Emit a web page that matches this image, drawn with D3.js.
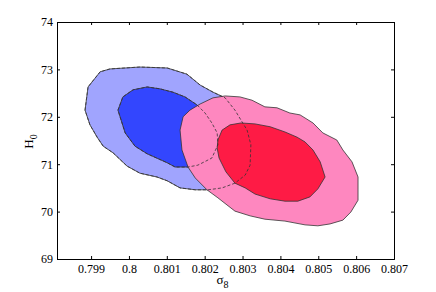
<!DOCTYPE html>
<html lang="en">
<head>
<meta charset="utf-8">
<title>sigma8 vs H0</title>
<script src="https://d3js.org/d3.v7.min.js"></script>
<style>
  body { margin: 0; background: #fff; }
  text { font-family: "Liberation Serif", "Times New Roman", serif; }
</style>
</head>
<body>
<div id="chart"></div>
<script>
// contour outlines, as [sigma8, H0]
const blueOuter = [
  [0.79884,72.14],[0.79892,72.63],[0.79924,72.95],[0.79950,73.01],[0.80029,73.05],
  [0.80101,73.03],[0.80153,72.90],[0.80188,72.67],[0.80222,72.52],[0.80254,72.40],
  [0.80280,72.14],[0.80299,71.89],[0.80312,71.72],[0.80322,71.41],[0.80320,70.98],
  [0.80307,70.77],[0.80280,70.60],[0.80246,70.50],[0.80209,70.46],[0.80175,70.46],
  [0.80135,70.50],[0.80101,70.65],[0.80074,70.73],[0.80029,70.81],[0.79995,70.96],
  [0.79958,71.24],[0.79932,71.38],[0.79916,71.57],[0.79897,71.83]
];
const blueInner = [
  [0.79971,72.14],[0.79984,72.42],[0.80011,72.57],[0.80048,72.63],[0.80082,72.59],
  [0.80116,72.52],[0.80148,72.42],[0.80180,72.25],[0.80201,72.08],[0.80219,71.87],
  [0.80233,71.66],[0.80235,71.41],[0.80219,71.13],[0.80182,70.98],[0.80156,70.94],
  [0.80122,70.94],[0.80101,71.03],[0.80048,71.22],[0.80016,71.38],[0.79990,71.66]
];
const pinkOuter = [
  [0.80135,71.72],[0.80143,72.00],[0.80161,72.14],[0.80188,72.27],[0.80222,72.40],
  [0.80254,72.44],[0.80293,72.42],[0.80325,72.35],[0.80359,72.21],[0.80391,72.19],
  [0.80425,72.08],[0.80452,72.04],[0.80486,71.87],[0.80512,71.66],[0.80549,71.51],
  [0.80565,71.30],[0.80589,71.05],[0.80605,70.73],[0.80605,70.24],[0.80586,69.99],
  [0.80565,69.82],[0.80531,69.74],[0.80499,69.70],[0.80465,69.72],[0.80412,69.80],
  [0.80359,69.84],[0.80320,69.91],[0.80280,70.01],[0.80259,70.14],[0.80235,70.29],
  [0.80206,70.46],[0.80175,70.71],[0.80156,70.94],[0.80140,71.30]
];
const redInner = [
  [0.80235,71.51],[0.80246,71.72],[0.80267,71.83],[0.80296,71.87],[0.80333,71.85],
  [0.80373,71.79],[0.80412,71.68],[0.80444,71.57],[0.80465,71.47],[0.80486,71.30],
  [0.80505,71.05],[0.80518,70.73],[0.80499,70.48],[0.80478,70.31],[0.80446,70.22],
  [0.80412,70.22],[0.80373,70.27],[0.80333,70.37],[0.80307,70.50],[0.80280,70.60],
  [0.80256,70.84],[0.80238,71.13],[0.80233,71.34]
];
const xTicks = [0.799, 0.8, 0.801, 0.802, 0.803, 0.804, 0.805, 0.806, 0.807];
const yTicks = [69, 70, 71, 72, 73, 74];

const margin = {top: 22, right: 42, bottom: 33, left: 57},
      width = 436 - margin.left - margin.right,
      height = 292 - margin.top - margin.bottom;

const svg = d3.select("#chart").append("svg")
    .attr("width", 436)
    .attr("height", 292)
  .append("g")
    .attr("transform", `translate(${margin.left},${margin.top})`);

const x = d3.scaleLinear().domain([0.7981, 0.807]).range([0, width]);
const y = d3.scaleLinear().domain([69, 74]).range([height, 0]);

const line = d3.line()
  .x(d => x(d[0]))
  .y(d => y(d[1]))
  .curve(d3.curveLinearClosed);

// filled contours
function contour(data, fill) {
  svg.append("path")
    .datum(data)
    .attr("d", line)
    .attr("fill", fill)
    .attr("stroke", "#333")
    .attr("stroke-width", 0.8);
}
contour(blueOuter, "#a0a4fe");
contour(blueInner, "#3346fe");
contour(pinkOuter, "#fe87bf");
contour(redInner, "#fe1b45");

// blue outlines again, dashed, so they show through the pink
[blueOuter, blueInner].forEach(data => {
  svg.append("path")
    .datum(data)
    .attr("d", line)
    .attr("fill", "none")
    .attr("stroke", "#333")
    .attr("stroke-width", 0.8)
    .attr("stroke-dasharray", "3,2");
});

// axes, ticks pointing in on all four sides
const fmt = d => String(+d.toFixed(3));
svg.append("g")
  .attr("transform", `translate(0,${height})`)
  .call(d3.axisBottom(x).tickValues(xTicks).tickFormat(fmt).tickSize(-3).tickPadding(5.5));
svg.append("g")
  .call(d3.axisTop(x).tickValues(xTicks).tickFormat("").tickSize(-3));
svg.append("g")
  .call(d3.axisLeft(y).tickValues(yTicks).tickFormat(d3.format("d")).tickSize(-3).tickPadding(4));
svg.append("g")
  .attr("transform", `translate(${width},0)`)
  .call(d3.axisRight(y).tickValues(yTicks).tickFormat("").tickSize(-3));

svg.selectAll(".domain").attr("stroke", "#000").attr("stroke-width", 1);
svg.selectAll(".tick line").attr("stroke", "#000");
svg.selectAll(".tick text")
  .attr("font-family", "Liberation Serif")
  .attr("font-size", 12)
  .attr("fill", "#000");

// axis labels
const xl = svg.append("text")
  .attr("x", width / 2 - 3)
  .attr("y", height + 25)
  .attr("text-anchor", "middle")
  .attr("font-size", 13);
xl.append("tspan").text("σ");
xl.append("tspan").attr("dy", 4).attr("font-size", 10).text("8");

const yl = svg.append("text")
  .attr("transform", `translate(-24,${height / 2 + 1}) rotate(-90)`)
  .attr("text-anchor", "middle")
  .attr("font-size", 13);
yl.append("tspan").text("H");
yl.append("tspan").attr("dy", 4).attr("font-size", 10).text("0");
</script>
</body>
</html>
